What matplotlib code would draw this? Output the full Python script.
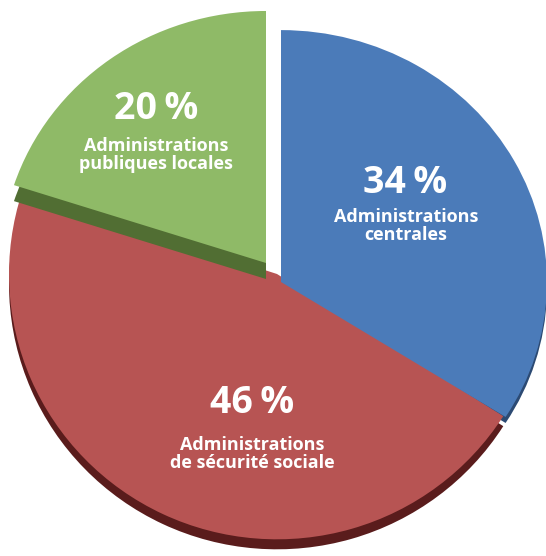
import matplotlib
matplotlib.use("Agg")
import matplotlib.pyplot as plt
from matplotlib.transforms import Affine2D

# ---- data ----
shares = [34, 46, 20]
pct_labels = ["34\u2009%", "46\u2009%", "20\u2009%"]
cat_labels = ["Administrations\ncentrales",
              "Administrations\nde sécurité sociale",
              "Administrations\npubliques locales"]
top_colors = ["#4b7bb9", "#b75453", "#8fba67"]
side_colors = ["#2c4a73", "#5a1c1c", "#516e33"]

# ---- layout (pixel based) ----
W, H = 546, 556
centers_px = [(281, 282), (277, 274), (266, 263)]
radii_px = [266, 268, 265]
squash = [0.947, 0.99, 0.951]
thick_px = [6, 10, 16]
pct_pos = [(405, 183), (252, 403), (156, 109)]
lab_pos = [(406, 226), (252, 454), (156, 155)]
z_top = [6, 3, 5]
z_side = [1, 2, 4]

fig = plt.figure(figsize=(W / 100, H / 100), dpi=100)
ax = fig.add_axes([0, 0, 1, 1])

sides, _ = ax.pie(shares, startangle=90, counterclock=False,
                  colors=side_colors, wedgeprops=dict(linewidth=0))
tops, _ = ax.pie(shares, startangle=90, counterclock=False,
                 colors=top_colors, wedgeprops=dict(linewidth=0))

ax.set_aspect("auto")
ax.set_xlim(0, W)
ax.set_ylim(0, H)
ax.axis("off")

for i in range(len(shares)):
    cx, cy = centers_px[i]
    for w, dy, z in ((tops[i], 0, z_top[i]), (sides[i], thick_px[i], z_side[i])):
        w.set_center((0, 0))
        w.set_radius(radii_px[i])
        w.set_transform(Affine2D().scale(1, squash[i])
                        .translate(cx, H - cy - dy) + ax.transData)
        w.set_zorder(z)

font = ["Open Sans", "DejaVu Sans"]
for i in range(len(shares)):
    px, py = pct_pos[i]
    ax.text(px, H - py, pct_labels[i], color="white", fontsize=27,
            fontweight="bold", family=font, ha="center", va="center",
            zorder=10)
    lx, ly = lab_pos[i]
    ax.text(lx, H - ly, cat_labels[i], color="white", fontsize=13,
            fontweight="bold", family=font, ha="center", va="center",
            linespacing=1.0, zorder=10)

fig.savefig("out.png", dpi=100, facecolor="white")
